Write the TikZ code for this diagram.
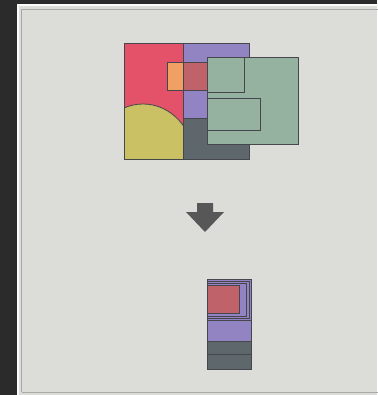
\documentclass[tikz,border=0pt]{standalone}
\usepackage{tikz}
\usetikzlibrary{calc}
\definecolor{darkc}{HTML}{2B2B2B}
\definecolor{bgc}{HTML}{DCDCD9}
\definecolor{framec}{HTML}{A9A9A7}
\definecolor{edgec}{HTML}{45474C}
\definecolor{redc}{HTML}{E4526A}
\definecolor{purc}{HTML}{9283C2}
\definecolor{slatec}{HTML}{5E686C}
\definecolor{yelc}{HTML}{C9C163}
\definecolor{orac}{HTML}{EFA062}
\definecolor{rosec}{HTML}{C0626A}
\definecolor{greenc}{HTML}{95B1A0}
\definecolor{arrowc}{HTML}{575757}

\begin{document}
\begin{tikzpicture}[x=1pt, y={(0pt,-1pt)}, line width=0.8pt,
    piece/.style={draw=edgec, fill=#1},
    outline/.style={draw=edgec}]
  \useasboundingbox (0,0) rectangle (377,395);
  % panel
  \fill[darkc] (0,0) rectangle (377,395);
  \fill[bgc] (17,4) rectangle (377,395);
  \draw[white!90!bgc, line width=1.5pt] (18,395) -- (18,5) -- (380,5);
  \draw[framec, line width=1pt] (21.5,392) -- (21.5,9.5) -- (380,9.5);
  \draw[framec, line width=1pt] (21.5,392) -- (380,392);
  % shapes before
  \fill[redc] (124,43) rectangle (183,159);
  \begin{scope}
    \clip (124,43) rectangle (183,159);
    \filldraw[piece=yelc] (143,160) ellipse (51 and 56);
  \end{scope}
  \fill[purc] (183,43) rectangle (249,118);
  \fill[slatec] (183,118) rectangle (249,159);
  \draw[outline] (124,43) rectangle (249,159);
  \draw[outline] (183,43) -- (183,159);
  \draw[outline] (183,118) -- (249,118);
  \filldraw[piece=orac] (167,62) rectangle (183,90);
  \filldraw[piece=rosec] (183,62) rectangle (215,90);
  \filldraw[piece=greenc] (207,57) rectangle (298,144);
  \draw[outline] (207,57) rectangle (244,92);
  \draw[outline] (207,98) rectangle (260,130);
  % arrow
  \fill[arrowc] (197,203) -- (213,203) -- (213,212) -- (224,212)
    -- (205,232) -- (186,212) -- (197,212) -- cycle;
  % shapes after
  \filldraw[piece=purc] (207,279) rectangle (251,320);
  \draw[outline] (207,281) rectangle (249,318);
  \draw[outline] (207,283) rectangle (246,316);
  \filldraw[piece=rosec] (207,285) rectangle (239,313);
  \filldraw[piece=purc] (207,320) rectangle (251,341);
  \foreach \ya/\yb in {341/354, 354/369}
    \filldraw[piece=slatec] (207,\ya) rectangle (251,\yb);
\end{tikzpicture}
\end{document}
